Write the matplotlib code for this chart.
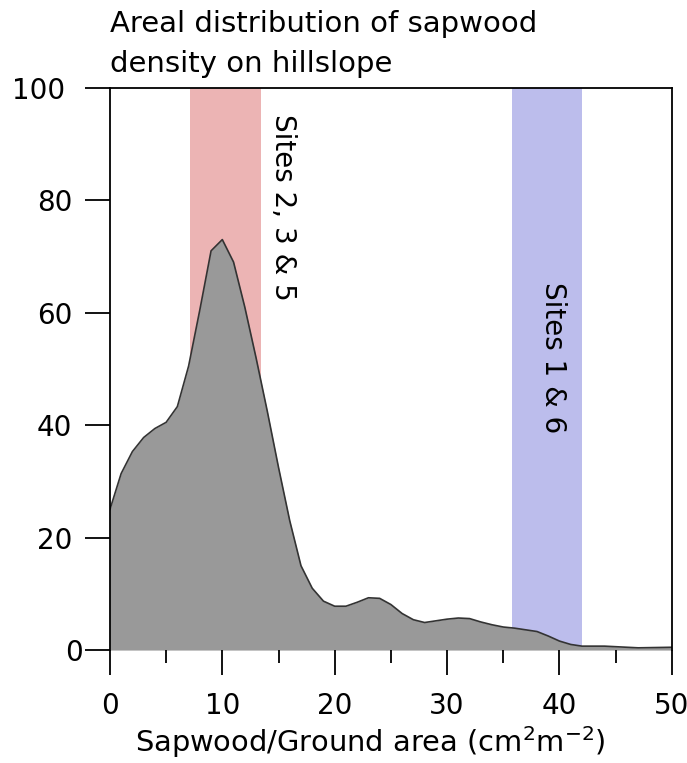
import numpy as np
import matplotlib
matplotlib.use("Agg")
import matplotlib.pyplot as plt
from matplotlib.ticker import MultipleLocator
from matplotlib.transforms import ScaledTranslation

plt.rcParams["font.family"] = ["DejaVu Sans"]

# sapwood/ground area (cm2 m-2) and areal fraction
sapwood = [0, 1, 2, 3, 4, 5, 6, 7, 8, 9, 10, 11, 12, 13, 14, 15, 16, 17, 18,
           19, 20, 21, 22, 23, 24, 25, 26, 27, 28, 29, 30, 31, 32, 33, 34, 35,
           36, 37, 38, 39, 40, 41, 42, 44, 45, 47, 50]
density = [25.0, 31.4, 35.3, 37.8, 39.4, 40.5, 43.3, 50.5, 60.5, 71.0, 73.0,
           69.0, 61.0, 52.0, 42.5, 32.5, 23.0, 15.0, 11.0, 8.7, 7.8, 7.8, 8.5,
           9.3, 9.2, 8.1, 6.5, 5.4, 4.9, 5.2, 5.5, 5.7, 5.6, 5.0, 4.5, 4.1,
           3.9, 3.6, 3.3, 2.5, 1.6, 1.0, 0.7, 0.7, 0.6, 0.4, 0.5]

# site ranges
site_bands = [(7.1, 13.4), (35.8, 42.0)]
band_colors = ["#ecb4b4", "#bcbdec"]
site_labels = ["Sites 2, 3 & 5", "Sites 1 & 6"]
label_pos = [(15.4, 95.4), (39.4, 65.5)]

fig = plt.figure(figsize=(6.87, 7.63), dpi=100)
ax = fig.add_axes([0.160, 0.148, 0.818, 0.737])

for (lo, hi), c in zip(site_bands, band_colors):
    ax.axvspan(lo, hi, color=c, lw=0, zorder=0)

ax.fill_between(sapwood, density, 0, color="#999999", lw=0, zorder=1)
ax.plot(sapwood, density, color="#333333", lw=1.2, zorder=2)

for txt, (x, y) in zip(site_labels, label_pos):
    ax.text(x, y, txt, rotation=-90, ha="center", va="top", fontsize=20,
            zorder=3)

ax.set_xlim(0, 50)
ax.set_ylim(0, 100)
ax.xaxis.set_major_locator(MultipleLocator(10))
ax.xaxis.set_minor_locator(MultipleLocator(5))
ax.yaxis.set_major_locator(MultipleLocator(20))
ax.tick_params(axis="both", which="major", direction="out", width=1.3,
               labelsize=20, color="black")
ax.tick_params(axis="y", which="major", length=18, pad=9)
ax.tick_params(axis="x", which="major", length=18, pad=12)
ax.tick_params(axis="x", which="minor", direction="out", length=9.5, width=1.3)
for s in ax.spines.values():
    s.set_linewidth(1.3)
ax.spines["bottom"].set_visible(False)

# y tick labels are not right-aligned in the original
fig.canvas.draw()
shifts = {"100": -7, "0": 10}
for lab in ax.get_yticklabels():
    dx = shifts.get(lab.get_text(), 0)
    if dx:
        lab.set_transform(lab.get_transform()
                          + ScaledTranslation(dx / 100, 0, fig.dpi_scale_trans))

ax.set_xlabel(r"Sapwood/Ground area (cm$^\mathregular{2}$m$^\mathregular{-2}$)",
              fontsize=20.8, va="baseline")
ax.xaxis.set_label_coords(0.4626, -0.1815)

fig.text(0.160, 0.958, "Areal distribution of sapwood", fontsize=21,
         ha="left", va="baseline")
fig.text(0.160, 0.9056, "density on hillslope", fontsize=21,
         ha="left", va="baseline")

fig.savefig("out.png", dpi=100)
